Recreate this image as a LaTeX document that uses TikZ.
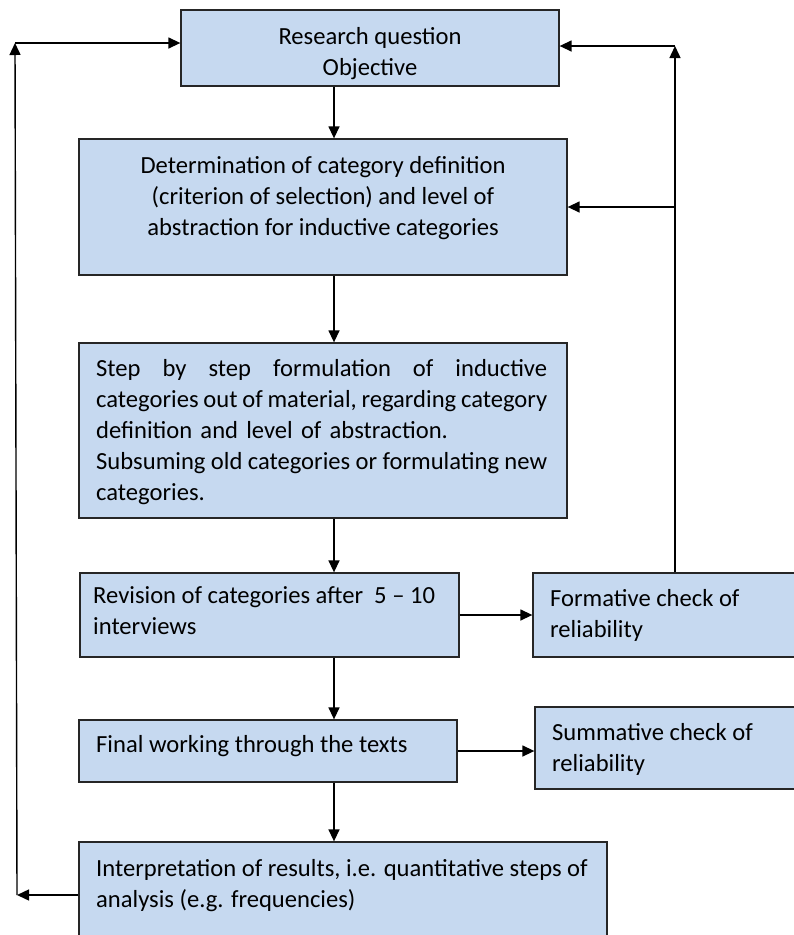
\documentclass[tikz,border=0pt]{standalone}
\usepackage{fontspec}
\setmainfont{Carlito}
\usetikzlibrary{arrows.meta}
\definecolor{boxblue}{HTML}{C6D9F0}
\tikzset{
  box/.style={draw=black!85, line width=1.3pt, fill=boxblue, inner sep=0pt},
  txt/.style={inner sep=0pt, font=\fontsize{24.6}{31}\selectfont},
  conn/.style={line width=1.4pt, -{Triangle[length=12pt,width=11pt]}},
}
% a justified line spread over the full text width
\newcommand{\fullline}[1]{\makebox[451pt][l]{#1}}
\begin{document}
\begin{tikzpicture}[x=1pt, y=-1pt]
\useasboundingbox (0,0) rectangle (794,935);
\clip (0,0) rectangle (794,935);

% boxes
\node[box, minimum width=378pt, minimum height=76pt]  (rq)     at (370,48) {};
\node[box, minimum width=488pt, minimum height=136pt] (det)    at (323,207) {};
\node[box, minimum width=488pt, minimum height=175pt] (step)   at (323,430.5) {};
\node[box, minimum width=379pt, minimum height=84pt]  (rev)    at (269.5,615) {};
\node[box, minimum width=267pt, minimum height=84pt]  (form)   at (666.5,615) {};
\node[box, minimum width=378pt, minimum height=62pt]  (fin)    at (268,751) {};
\node[box, minimum width=265pt, minimum height=82pt]  (summ)   at (667.5,748) {};
\node[box, minimum width=528pt, minimum height=118pt] (interp) at (343,901) {};

% texts (multi-line nodes sit on the baseline of their last line)
\node[txt, anchor=base, align=center] (rqt) at (370,75) {Research question\\Objective};
\node[txt, anchor=base, align=center] (dett) at (323,235)
  {Determination of category definition\\(criterion of selection) and level of\\abstraction for inductive categories};
\node[txt, anchor=base west, text width=451pt, align=left] (stept) at (96,376)
  {\fullline{Step\hfill by\hfill step\hfill formulation\hfill of\hfill inductive}\\
   \fullline{categories\hfill out\hfill of\hfill material,\hfill regarding\hfill category}\\
   definition and level of abstraction.\\
   \fullline{Subsuming\hfill old\hfill categories\hfill or\hfill formulating\hfill new}\\
   categories.};
\node[txt, anchor=base west, align=left] (revt) at (93,634) {Revision of categories after \ 5 -- 10\\interviews};
\node[txt, anchor=base west, align=left] (formt) at (550,637) {Formative check of\\reliability};
\node[txt, anchor=base west] (fint) at (96,752) {Final working through the texts};
\node[txt, anchor=base west, align=left] (summt) at (552,771) {Summative check of\\reliability};
\node[txt, anchor=base west, align=left] (interpt) at (96,907)
  {Interpretation of results, i.e. quantitative steps of\\analysis (e.g. frequencies)};

% guide coordinates for the connectors
\coordinate (spine) at (334,0);
\coordinate (lbot) at (17,895);
\coordinate (ltop) at (15,43);
\coordinate (rtop) at (675,46);
\coordinate (rmid) at (675,207);

% main chain
\draw[conn] (rq.south -| spine) -- (det.north -| spine);
\draw[conn] (det.south -| spine) -- (step.north -| spine);
\draw[conn] (step.south -| spine) -- (rev.north -| spine);
\draw[conn] (rev.south -| spine) -- (fin.north -| spine);
\draw[conn] (fin.south -| spine) -- (interp.north -| spine);

% side checks
\draw[conn] (rev.east) -- (form.west |- rev.east);
\draw[conn] (fin.east) -- (summ.west |- fin.east);

% feedback on the right
\draw[conn] (form.north -| rtop) -- (rtop);
\draw[conn] (rtop) -- (rq.east |- rtop);
\draw[conn] (rmid) -- (det.east |- rmid);

% feedback on the left
\draw[conn] (interp.west |- lbot) -- (lbot);
\draw[conn] (lbot) -- (ltop);
\draw[conn] (ltop) -- (rq.west |- ltop);
\end{tikzpicture}
\end{document}
